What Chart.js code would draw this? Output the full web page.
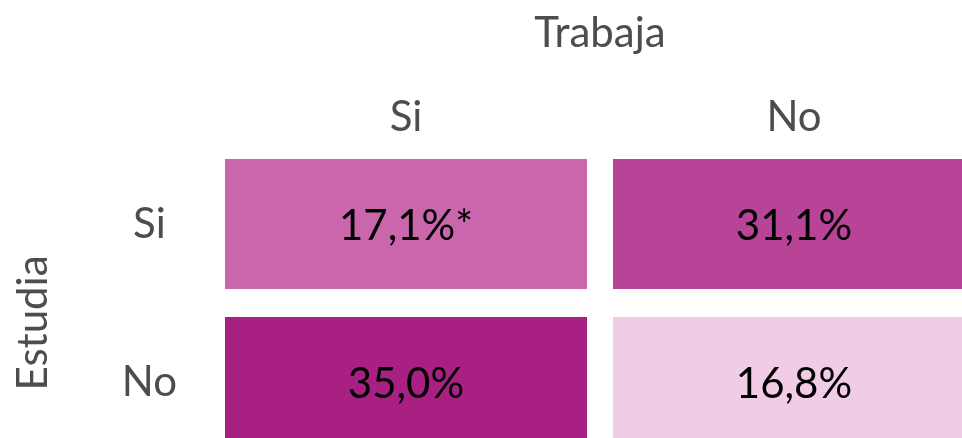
<!DOCTYPE html>
<html>
<head>
<meta charset="utf-8">
<script src="https://cdn.jsdelivr.net/npm/chart.js@4.4.1/dist/chart.umd.min.js"></script>
<style>
    html, body { margin: 0; padding: 0; background: #fff; overflow: hidden; }
    #chart-matriz { position: absolute; left: 0; top: 0; }
</style>
</head>
<body>
<canvas id="chart-matriz" width="1000" height="470"></canvas>
<script>
// columnas = Trabaja, filas = Estudia
const trabaja = ['Si', 'No'];
const estudia = ['Si', 'No'];
const pctEstudiaSi = [17.1, 31.1];
const pctEstudiaNo = [35.0, 16.8];
const notasEstudiaSi = ['*', ''];
const notasEstudiaNo = ['', ''];
const coloresEstudiaSi = ['#c966ac', '#b84498'];
const coloresEstudiaNo = ['#a82082', '#f0cce6'];

const FONT = 'Lato, "Noto Sans", sans-serif';
const GRIS = '#4d4d4d';

const datasets = trabaja.map((t, c) => ({
    label: t,
    data: estudia.map(() => [c, c + 1]),
    pct: [pctEstudiaSi[c], pctEstudiaNo[c]],
    notas: [notasEstudiaSi[c], notasEstudiaNo[c]],
    backgroundColor: [coloresEstudiaSi[c], coloresEstudiaNo[c]],
    borderColor: '#ffffff',
    borderWidth: { left: 13, right: 13, top: 0, bottom: 0 },
    borderSkipped: false,
    grouped: false,
    categoryPercentage: 1,
    barPercentage: 0.823
}));

// texto de cada celda
const etiquetasCeldas = {
    id: 'etiquetasCeldas',
    afterDatasetsDraw(chart) {
        const ctx = chart.ctx;
        ctx.save();
        ctx.font = '42px ' + FONT;
        ctx.fillStyle = '#000';
        ctx.textAlign = 'center';
        ctx.textBaseline = 'alphabetic';
        chart.data.datasets.forEach((ds, i) => {
            chart.getDatasetMeta(i).data.forEach((bar, j) => {
                const p = bar.getCenterPoint();
                const txt = ds.pct[j].toFixed(1).replace('.', ',') + '%' + ds.notas[j];
                ctx.fillText(txt, p.x, p.y + 16);
            });
        });
        ctx.restore();
    }
};

// titulo vertical de filas
const tituloFilas = {
    id: 'tituloFilas',
    afterDraw(chart) {
        const ctx = chart.ctx;
        ctx.save();
        ctx.translate(47, 323);
        ctx.rotate(-Math.PI / 2);
        ctx.font = '42px ' + FONT;
        ctx.fillStyle = GRIS;
        ctx.textAlign = 'center';
        ctx.textBaseline = 'alphabetic';
        ctx.fillText('Estudia', 0, 0);
        ctx.restore();
    }
};

new Chart(document.getElementById('chart-matriz').getContext('2d'), {
    type: 'bar',
    data: { labels: estudia, datasets },
    options: {
        indexAxis: 'y',
        responsive: false,
        animation: false,
        layout: { padding: { left: 0, right: 12, top: 0, bottom: 9 } },
        plugins: {
            legend: { display: false },
            tooltip: { enabled: false }
        },
        scales: {
            x: {
                position: 'top',
                min: 0,
                max: trabaja.length,
                grid: { display: false, drawTicks: false },
                border: { display: false },
                afterBuildTicks: (s) => { s.ticks = trabaja.map((_, i) => ({ value: i + 0.5 })); },
                afterFit: (s) => { s.height = 145; s.paddingLeft = 0; s.paddingRight = 0; },
                ticks: {
                    autoSkip: false,
                    maxRotation: 0,
                    padding: 2,
                    color: GRIS,
                    font: { family: FONT, size: 42 },
                    callback: (v) => trabaja[Math.floor(v)]
                },
                title: {
                    display: true,
                    text: 'Trabaja',
                    color: GRIS,
                    font: { family: FONT, size: 42 },
                    padding: { top: 8, bottom: 0 }
                }
            },
            y: {
                grid: { display: false, drawTicks: false },
                border: { display: false },
                afterFit: (s) => { s.width = 212; s.paddingTop = 0; s.paddingBottom = 0; },
                ticks: {
                    crossAlign: 'center',
                    padding: 35,
                    color: GRIS,
                    font: { family: FONT, size: 42 }
                }
            }
        }
    },
    plugins: [etiquetasCeldas, tituloFilas]
});
</script>
</body>
</html>
